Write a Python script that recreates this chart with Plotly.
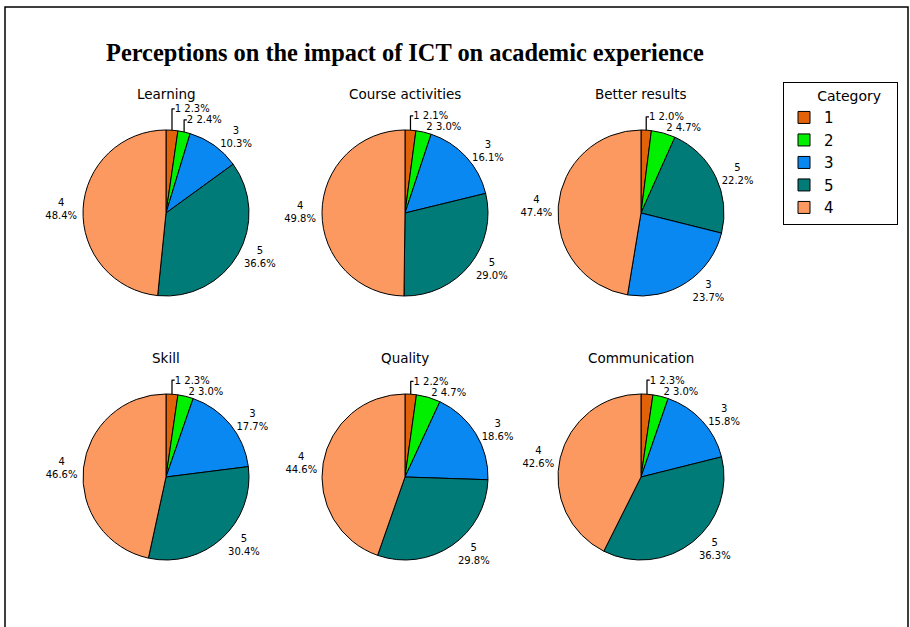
import plotly.graph_objects as go

W, H = 910, 627

chart_title = "Perceptions on the impact of ICT on academic experience"
panels = ["Learning", "Course activities", "Better results", "Skill", "Quality", "Communication"]
legend_title = "Category"

# slice order (clockwise from 12 o'clock) and values per panel (percent)
learning_labels = ["1", "2", "3", "5", "4"]
learning_values = [2.3, 2.4, 10.3, 36.6, 48.4]

course_labels = ["1", "2", "3", "5", "4"]
course_values = [2.1, 3.0, 16.1, 29.0, 49.8]

better_labels = ["1", "2", "5", "3", "4"]
better_values = [2.0, 4.7, 22.2, 23.7, 47.4]

skill_labels = ["1", "2", "3", "5", "4"]
skill_values = [2.3, 3.0, 17.7, 30.4, 46.6]

quality_labels = ["1", "2", "3", "5", "4"]
quality_values = [2.2, 4.7, 18.6, 29.8, 44.6]

comm_labels = ["1", "2", "3", "5", "4"]
comm_values = [2.3, 3.0, 15.8, 36.3, 42.6]

category_colors = {"1": "#E26209", "2": "#00F000", "3": "#0A88F2", "5": "#007B78", "4": "#FB9960"}

data = [
    (learning_labels, learning_values),
    (course_labels, course_values),
    (better_labels, better_values),
    (skill_labels, skill_values),
    (quality_labels, quality_values),
    (comm_labels, comm_values),
]

# panel centers in pixels
centers_x = [166, 405, 641]
centers_y = [213, 477]
half_w, half_h = 110, 83

fig = go.Figure()
for i, (labs, vals) in enumerate(data):
    cx = centers_x[i % 3]
    cy = centers_y[i // 3]
    # thin slices get a one-line label so the stacked labels stay below the panel title
    templates = ["%{label} %{percent:.1%}" if l in ("1", "2") else "%{label}<br>%{percent:.1%}" for l in labs]
    fig.add_trace(go.Pie(
        labels=labs, values=vals, sort=False, direction="clockwise", rotation=0,
        marker=dict(colors=[category_colors[l] for l in labs], line=dict(color="black", width=1)),
        texttemplate=templates, textposition="outside",
        textfont=dict(family="DejaVu Sans", size=10, color="black"),
        domain=dict(x=[(cx - half_w) / W, (cx + half_w) / W],
                    y=[1 - (cy + half_h) / H, 1 - (cy - half_h) / H]),
        showlegend=(i == 0), hoverinfo="label+percent",
    ))
    fig.add_annotation(text=panels[i], x=cx / W, y=1 - (cy - 119) / H, xref="paper", yref="paper",
                       xanchor="center", yanchor="middle", showarrow=False,
                       font=dict(family="DejaVu Sans", size=13.5, color="black"))

fig.add_annotation(text="<b>" + chart_title + "</b>", x=405 / W, y=1 - 52 / H, xref="paper", yref="paper",
                   xanchor="center", yanchor="middle", showarrow=False,
                   font=dict(family="Liberation Serif", size=24.4, color="black"))

fig.add_shape(type="rect", xref="paper", yref="paper", x0=5 / W, x1=908 / W, y0=-0.1, y1=1 - 7 / H,
              line=dict(color="black", width=1.5))

pad = "\u00a0"
fig.update_layout(
    width=W, height=H, margin=dict(l=0, r=0, t=0, b=0, autoexpand=False),
    paper_bgcolor="white", plot_bgcolor="white",
    legend=dict(x=783 / W, y=1 - 82 / H, xanchor="left", yanchor="top",
                bordercolor="black", borderwidth=1, bgcolor="white",
                title=dict(text=pad * 7 + legend_title + pad * 3, side="top",
                           font=dict(family="DejaVu Sans", size=14)),
                font=dict(family="DejaVu Sans", size=15, color="black"),
                traceorder="normal"),
)

fig.write_html("out.html", config={"displayModeBar": False},
               post_script="document.body.style.margin='0';")
